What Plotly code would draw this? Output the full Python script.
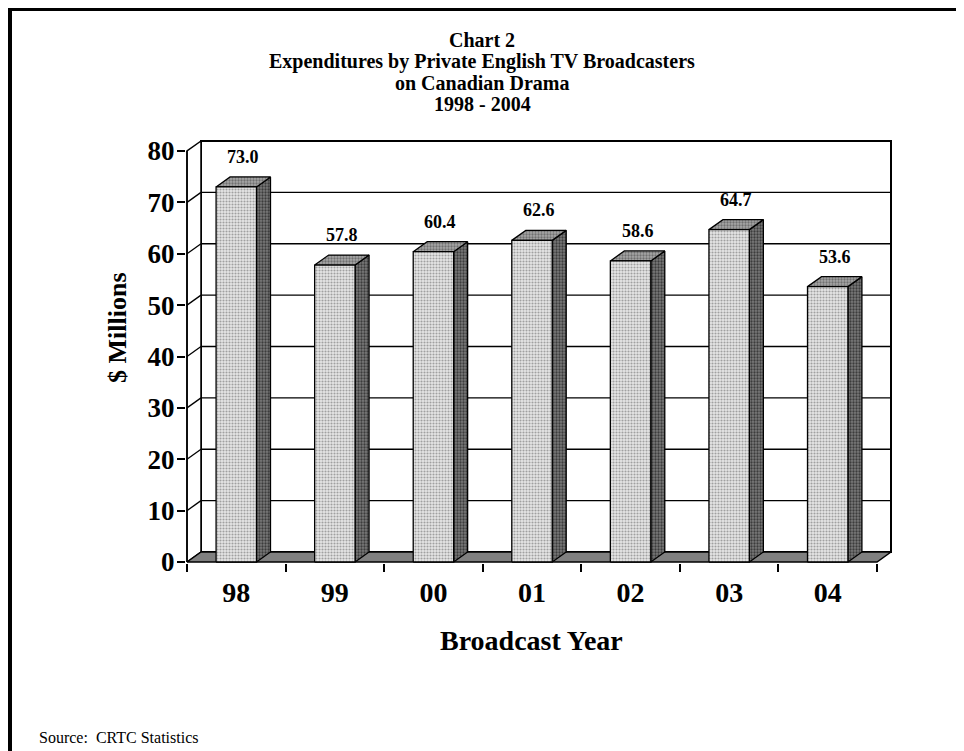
import plotly.graph_objects as go

# ---------------- data ----------------
years = ["98", "99", "00", "01", "02", "03", "04"]
values = [73.0, 57.8, 60.4, 62.6, 58.6, 64.7, 53.6]
y_ticks = [0, 10, 20, 30, 40, 50, 60, 70, 80]
title_lines = ["Chart 2",
               "Expenditures by Private English TV Broadcasters",
               "on Canadian Drama",
               "1998 - 2004"]
y_title = "$ Millions"
x_title = "Broadcast Year"
source_text = "Source:  CRTC Statistics"

# ---------------- layout geometry (page px; the page body has an 8px margin) ----------------
OFF = 8
W, H = 964 - OFF, 751 - OFF
PAD = 1
PL, PR, PT, PB = 187, 891, 141, 562      # plot-area edges on the page
L = PL - OFF - PAD
R = W - (PR - OFF) - PAD
T = PT - OFF - PAD
B = H - (PB - OFF) - PAD
YMAX = 80
DX_PX, DY_PX = 14, 10
n = len(years)
plot_w = PR - PL
plot_h = PB - PT
slot = (plot_w - DX_PX) / n            # px per category
unit = (plot_h - DY_PX) / YMAX         # px per value unit
dxu = DX_PX / slot
dyu = DY_PX / unit
padx = PAD / slot
pady = PAD / unit
x0r, x1r = -0.5 - padx, n - 0.5 + dxu + padx
y0r, y1r = -pady, YMAX + dyu + pady

FONT = "Liberation Serif, Times New Roman, serif"
BAR_W = 0.41


def px_to_paper_x(px):   # page px -> paper
    return (px - OFF - L) / (W - L - R)


def px_to_paper_y(py):   # page px -> paper
    return (H - B - (py - OFF)) / (H - T - B)


fig = go.Figure()


def poly(xs, ys, fill, line_w=1.5, pattern=None):
    kw = {}
    if pattern is not None:
        kw["fillpattern"] = pattern
    fig.add_trace(go.Scatter(
        x=xs + [xs[0]], y=ys + [ys[0]], mode="lines", fill="toself",
        fillcolor=fill, line=dict(color="black", width=line_w),
        hoverinfo="skip", showlegend=False, **kw))


def lines(segs, width=1.2):
    xs, ys = [], []
    for (xa, ya, xb, yb) in segs:
        xs += [xa, xb, None]
        ys += [ya, yb, None]
    fig.add_trace(go.Scatter(x=xs, y=ys, mode="lines",
                             line=dict(color="black", width=width),
                             hoverinfo="skip", showlegend=False))


xl, xr = -0.5, n - 0.5
# back wall
poly([xl + dxu, xr + dxu, xr + dxu, xl + dxu], [dyu, dyu, YMAX + dyu, YMAX + dyu], "white", 2)
# left side wall
poly([xl, xl + dxu, xl + dxu, xl], [0, dyu, YMAX + dyu, YMAX], "white", 1.5)
# gridlines
segs = []
for v in y_ticks[1:-1]:
    segs.append((xl + dxu, v + dyu, xr + dxu, v + dyu))
    segs.append((xl, v, xl + dxu, v + dyu))
lines(segs, 1.3)
# floor
poly([xl, xr, xr + dxu, xl + dxu], [0, 0, dyu, dyu], "#808080", 1.5)
# front axis line
lines([(xl, 0, xl, YMAX)], 1.5)

front_pat = dict(shape=".", size=3, solidity=0.4, fgcolor="#a0a0a0", bgcolor="#e6e6e6", fillmode="replace")
side_pat = dict(shape=".", size=3, solidity=0.45, fgcolor="#3c3c3c", bgcolor="#7a7a7a", fillmode="replace")
top_pat = dict(shape=".", size=3, solidity=0.45, fgcolor="#707070", bgcolor="#a8a8a8", fillmode="replace")

for i, v in enumerate(values):
    a, b = i - BAR_W / 2, i + BAR_W / 2
    # side face
    poly([b, b + dxu, b + dxu, b], [0, dyu, v + dyu, v], "#606060", 1.3, side_pat)
    # top face
    poly([a, b, b + dxu, a + dxu], [v, v, v + dyu, v + dyu], "#909090", 1.3, top_pat)
    # front face
    poly([a, b, b, a], [0, 0, v, v], "#cccccc", 1.3, front_pat)

annotations = []
for i, v in enumerate(values):
    annotations.append(dict(
        x=i + dxu / 2, y=v + dyu, xref="x", yref="y", text=f"{v:.1f}",
        showarrow=False, yanchor="bottom", yshift=8,
        font=dict(family=FONT, size=18, color="black", weight="bold")))

title_y_px = [39.5, 61, 82.5, 104]
for txt, ypx in zip(title_lines, title_y_px):
    annotations.append(dict(
        x=px_to_paper_x(482), y=px_to_paper_y(ypx), xref="paper", yref="paper",
        text=txt, showarrow=False, xanchor="center", yanchor="middle",
        borderpad=0,
        font=dict(family=FONT, size=20, color="black", weight="bold")))

annotations.append(dict(
    x=px_to_paper_x(117), y=px_to_paper_y(328), xref="paper", yref="paper",
    text=y_title, textangle=-90, showarrow=False, xanchor="center", yanchor="middle",
    font=dict(family=FONT, size=26, color="black", weight="bold")))
annotations.append(dict(
    x=px_to_paper_x(531), y=px_to_paper_y(640), xref="paper", yref="paper",
    text=x_title, showarrow=False, xanchor="center", yanchor="middle",
    font=dict(family=FONT, size=28, color="black", weight="bold")))
annotations.append(dict(
    x=px_to_paper_x(37), y=px_to_paper_y(737), xref="paper", yref="paper",
    text=source_text, showarrow=False, xanchor="left", yanchor="middle",
    font=dict(family=FONT, size=16, color="black")))

# page border (top and left)
shapes = [
    dict(type="line", xref="paper", yref="paper",
         x0=px_to_paper_x(10), x1=px_to_paper_x(10),
         y0=px_to_paper_y(7), y1=px_to_paper_y(760),
         line=dict(color="black", width=4)),
    dict(type="line", xref="paper", yref="paper",
         x0=px_to_paper_x(8), x1=px_to_paper_x(970),
         y0=px_to_paper_y(9.5), y1=px_to_paper_y(9.5),
         line=dict(color="black", width=3)),
]

fig.update_layout(
    width=W, height=H,
    margin=dict(l=L, r=R, t=T, b=B, pad=0),
    paper_bgcolor="white", plot_bgcolor="white",
    showlegend=False,
    annotations=annotations, shapes=shapes,
    xaxis=dict(range=[x0r, x1r], showgrid=False, zeroline=False, showline=False,
               tickmode="array", tickvals=list(range(n)), ticktext=years,
               ticks="", ticklabelstandoff=10,
               tickfont=dict(family=FONT, size=28, color="black", weight="bold"),
               minor=dict(tickmode="array", tickvals=[i - 0.5 for i in range(n + 1)],
                          ticks="outside", ticklen=8, tickcolor="black", tickwidth=1.5,
                          showgrid=False),
               fixedrange=True),
    yaxis=dict(range=[y0r, y1r], showgrid=False, zeroline=False, showline=False,
               tickmode="array", tickvals=y_ticks, ticks="outside", ticklen=8,
               tickcolor="black", tickwidth=1.5, ticklabelstandoff=-3,
               tickfont=dict(family=FONT, size=27, color="black", weight="bold"),
               fixedrange=True),
)

fig.write_html("out.html")
